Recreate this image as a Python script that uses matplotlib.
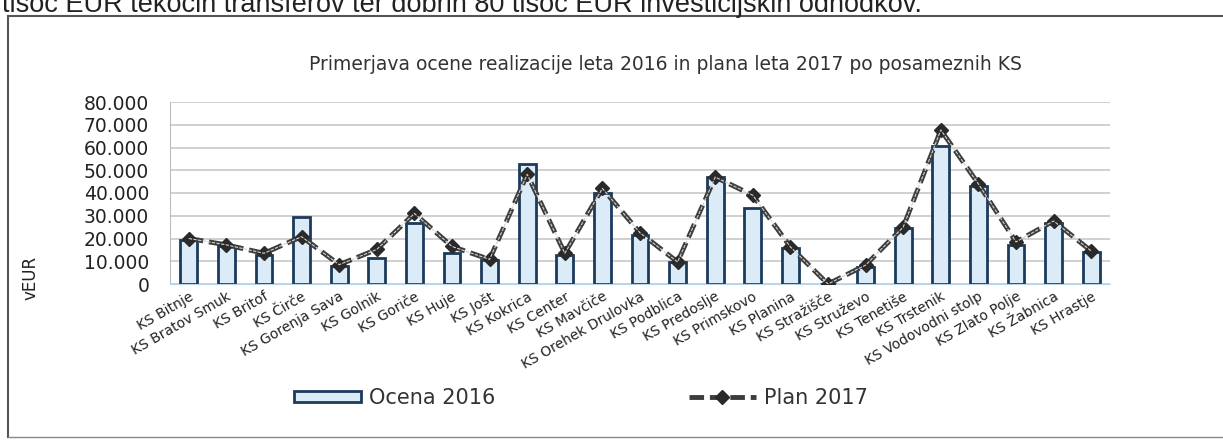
import matplotlib
matplotlib.use("Agg")
import matplotlib.pyplot as plt
from matplotlib.lines import Line2D
from matplotlib.ticker import FuncFormatter
import numpy as np

plt.rcParams['font.family'] = ['DejaVu Sans']

# podatki
kategorije = ["KS Bitnje", "KS Bratov Smuk", "KS Britof", "KS Čirče", "KS Gorenja Sava",
              "KS Golnik", "KS Goriče", "KS Huje", "KS Jošt", "KS Kokrica", "KS Center",
              "KS Mavčiče", "KS Orehek Drulovka", "KS Podblica", "KS Predoslje",
              "KS Primskovo", "KS Planina", "KS Stražišče", "KS Struževo", "KS Tenetiše",
              "KS Trstenik", "KS Vodovodni stolp", "KS Zlato Polje", "KS Žabnica", "KS Hrastje"]
ocena_2016 = [19500, 16500, 12800, 29500, 7800, 11500, 27000, 13700, 10500, 52700, 12700,
              40000, 21500, 9800, 47000, 33400, 15800, 0, 7600, 24600, 60700, 43000, 17000,
              26800, 14000]
plan_2017 = [20000, 17200, 13500, 20800, 8500, 15200, 31000, 16500, 10800, 48200, 13500,
             42000, 22500, 9700, 47000, 39000, 16300, 0, 8300, 25000, 67700, 44000, 18500,
             27700, 14500]
y_ticks = [0, 10000, 20000, 30000, 40000, 50000, 60000, 70000, 80000]

W, H = 1223, 441
fig = plt.figure(figsize=(W / 100, H / 100), dpi=100)
fig.patch.set_facecolor('white')

# okvir in besedilo dokumenta (zgoraj odrezano kot v skenu)
fig.add_artist(Line2D([8 / W, 8 / W], [1 - 437 / H, 1 - 16 / H], color='#555555', lw=1.5))
fig.add_artist(Line2D([8 / W, 1.0], [1 - 16 / H, 1 - 16 / H], color='#555555', lw=1.5))
fig.add_artist(Line2D([8 / W, 1.0], [1 - 437 / H, 1 - 437 / H], color='#888888', lw=1.0))
fig.text(2 / W, 1 - 12 / H, "tisoč EUR tekočih transferov ter dobrih 80 tisoč EUR investicijskih odhodkov.",
         fontsize=19.5, color='#222222', va='baseline', ha='left', family='Liberation Sans')

ax = fig.add_axes([170 / W, 1 - 284 / H, 940 / W, 182 / H])
x = np.arange(len(kategorije))

bars = ax.bar(x, ocena_2016, width=0.45, color='#dcebf8', edgecolor='#1c3a5a', linewidth=2,
              label='Ocena 2016', zorder=2)
line, = ax.plot(x, plan_2017, color='#3d3d3d', lw=3.5, dashes=(3, 1.2), marker='D', markersize=7,
                markerfacecolor='#2a2a2a', markeredgecolor='#2a2a2a', label='Plan 2017', zorder=3)
ax.plot(x, plan_2017, color='#d0d0d0', lw=0.8, dashes=(3, 1.2), zorder=3)

ax.set_xlim(-0.5, len(kategorije) - 0.5)
ax.set_ylim(0, 80000)
ax.set_yticks(y_ticks)
ax.yaxis.set_major_formatter(FuncFormatter(lambda v, p: f"{int(v):,}".replace(",", ".")))
ax.tick_params(axis='y', length=0, pad=15, labelsize=13.5, labelcolor='#222222')
ax.grid(axis='y', color='#c8c8c8', lw=1.2, zorder=0)
ax.set_axisbelow(True)
for s in ['top', 'right']:
    ax.spines[s].set_visible(False)
ax.spines['left'].set_color('#bdbdbd')
ax.spines['bottom'].set_color('#b8d4ea')

ax.set_xticks(x)
ax.set_xticklabels(kategorije, rotation=30, ha='right', rotation_mode='anchor',
                   fontsize=10, color='#222222')
ax.tick_params(axis='x', length=0, pad=4)

fig.text(665 / W, 1 - 65 / H,
         "Primerjava ocene realizacije leta 2016 in plana leta 2017 po posameznih KS",
         fontsize=13.5, color='#333333', ha='center', va='center')
fig.text(30 / W, 1 - 278 / H, "vEUR", rotation=90, fontsize=12, color='#222222',
         ha='center', va='center')

fig.legend([bars, line], ['Ocena 2016', 'Plan 2017'], loc='center',
           bbox_to_anchor=(581 / W, 1 - 398 / H), ncol=2, frameon=False,
           fontsize=15, handlelength=3.2, handleheight=0.45, columnspacing=9.3,
           handletextpad=0.4, labelcolor='#333333')

fig.savefig('out.png', dpi=100)
